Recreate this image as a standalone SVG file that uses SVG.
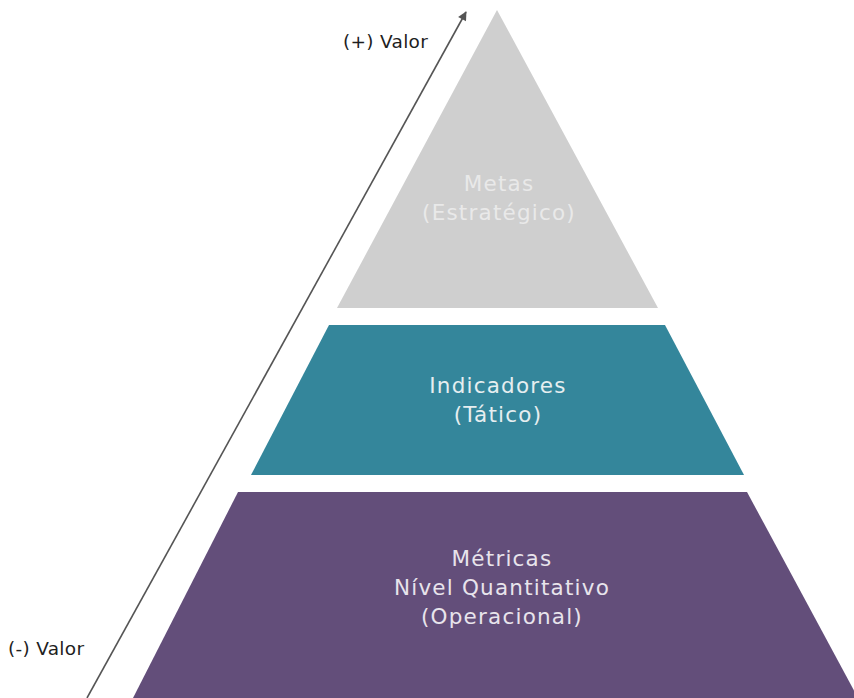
<svg xmlns="http://www.w3.org/2000/svg" width="854" height="698" viewBox="0 0 854 698">
  <defs>
    <style>
      .lbl { font-family: "DejaVu Sans", "Noto Sans", sans-serif; font-size: 21.5px; text-anchor: middle; letter-spacing: 1.2px; }
      .side { font-family: "DejaVu Sans", "Noto Sans", sans-serif; font-size: 18.5px; fill: #1e1e1e; letter-spacing: 0.3px; }
      .axis { stroke: #555555; stroke-width: 1.6; fill: none; }
    </style>
    <marker id="arrowhead" viewBox="0 0 10 10" refX="9" refY="5" markerWidth="11" markerHeight="9" markerUnits="userSpaceOnUse" orient="auto">
      <path d="M0,0 L10,5 L0,10 z" fill="#555555"/>
    </marker>
  </defs>
  <rect width="854" height="698" fill="#ffffff"/>

  <g id="connectors">
    <line class="axis" x1="87" y1="698" x2="466" y2="12" marker-end="url(#arrowhead)"/>
  </g>

  <g id="metas">
    <polygon points="497,10 658,308 337,308" fill="#cfcfcf"/>
    <text class="lbl" fill="#e9e9e9" x="499" y="191">Metas</text>
    <text class="lbl" fill="#e9e9e9" x="499" y="220">(Estratégico)</text>
  </g>

  <g id="indicadores">
    <polygon points="329,325 665,325 744,475 251,475" fill="#34869b"/>
    <text class="lbl" fill="#e6eef0" x="498" y="393">Indicadores</text>
    <text class="lbl" fill="#e6eef0" x="498" y="422">(Tático)</text>
  </g>

  <g id="metricas">
    <polygon points="238,492 747,492 858,698 133,698" fill="#634e7a"/>
    <text class="lbl" fill="#e8e4ec" x="502" y="566">Métricas</text>
    <text class="lbl" fill="#e8e4ec" x="502" y="595">Nível Quantitativo</text>
    <text class="lbl" fill="#e8e4ec" x="502" y="624">(Operacional)</text>
  </g>

  <g id="eixo-valor">
    <text class="side" x="343" y="48">(+) Valor</text>
    <text class="side" x="8" y="655">(-) Valor</text>
  </g>
</svg>
